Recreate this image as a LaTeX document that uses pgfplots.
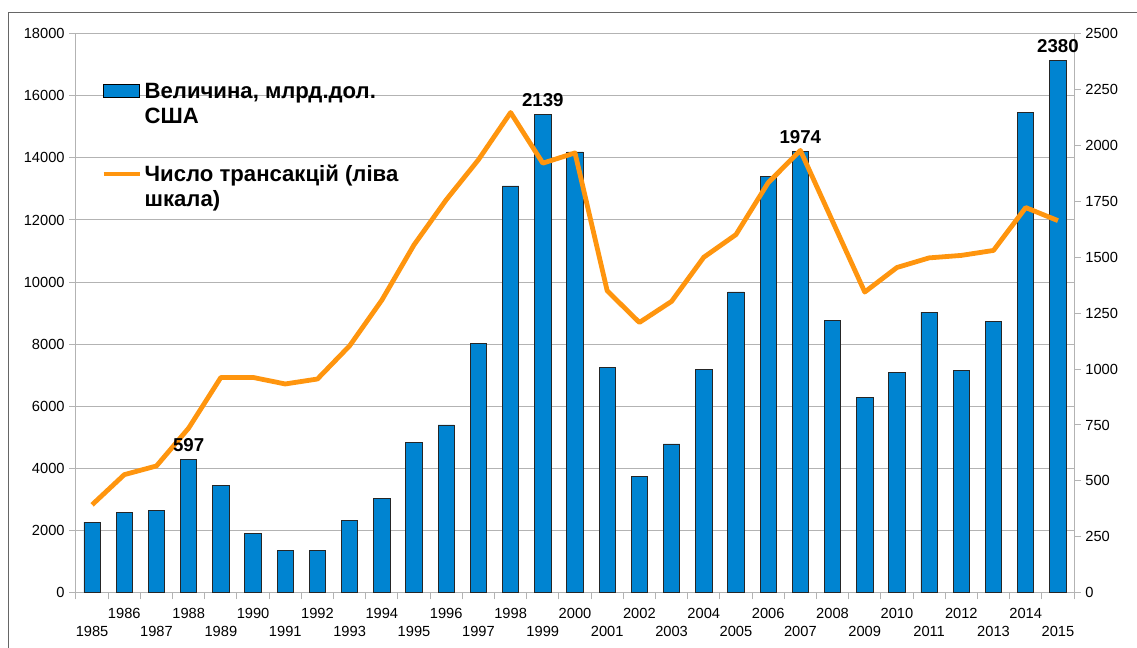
\documentclass[border=0pt]{standalone}
\usepackage{pgfplots}
\pgfplotsset{compat=1.18}
\usepackage{pgfplotstable}
\usepackage{fontspec}
\setmainfont{Liberation Sans}

\definecolor{barblue}{HTML}{0084D1}
\definecolor{lineorange}{HTML}{FF950E}
\definecolor{axisgray}{HTML}{B3B3B3}
\definecolor{framegray}{HTML}{666666}

% bars: right scale; line: left scale
\pgfplotstableread{
year value label
1985 316 {}
1986 358 {}
1987 368 {}
1988 597 597
1989 481 {}
1990 264 {}
1991 189 {}
1992 190 {}
1993 322 {}
1994 420 {}
1995 673 {}
1996 750 {}
1997 1114 {}
1998 1819 {}
1999 2139 2139
2000 1971 {}
2001 1007 {}
2002 520 {}
2003 665 {}
2004 1000 {}
2005 1345 {}
2006 1862 {}
2007 1974 1974
2008 1218 {}
2009 875 {}
2010 985 {}
2011 1255 {}
2012 993 {}
2013 1213 {}
2014 2146 {}
2015 2380 2380
}\valuetable

\pgfplotstableread{
year deals
1985 2830
1986 3800
1987 4080
1988 5300
1989 6930
1990 6930
1991 6720
1992 6880
1993 7950
1994 9420
1995 11200
1996 12650
1997 13940
1998 15460
1999 13830
2000 14160
2001 9720
2002 8700
2003 9380
2004 10800
2005 11530
2006 13200
2007 14240
2008 11960
2009 9680
2010 10470
2011 10780
2012 10860
2013 11020
2014 12400
2015 11980
}\dealtable

\pgfplotsset{
  /pgf/number format/.cd, 1000 sep={}, assume math mode=true,
  /pgfplots/.cd,
  base/.style={
    scale only axis, width=748.5pt, height=419.25pt,
    xmin=1984.5, xmax=2015.5, at={(0,0)}, anchor=south west,
    scaled y ticks=false,
    tick align=outside, major tick length=5pt,
    tick label style={font=\fontsize{11}{13}\selectfont, text=black},
    axis line style={axisgray, line width=0.75pt},
    tick style={axisgray, line width=0.75pt},
  },
}

\begin{document}
\begin{tikzpicture}
\useasboundingbox (-57pt,-41.5pt) rectangle (795.75pt,444.5pt);
\draw[framegray, line width=0.75pt] (-50.8pt,-60pt) -- (-50.8pt,435.3pt) -- (810pt,435.3pt);

% grid, left scale, boundary ticks
\begin{axis}[base,
  ymin=0, ymax=18000, ytick={0,2000,...,18000},
  axis y line*=left, axis x line*=bottom,
  ymajorgrids, grid style={axisgray, line width=0.75pt},
  xtick={1984.5,1985.5,...,2015.5}, xticklabels={},
]
\end{axis}

% bars, right scale, even years
\begin{axis}[base,
  ymin=0, ymax=2500, ytick={0,250,...,2500},
  axis y line*=right, axis x line*=bottom,
  x axis line style={draw=none}, xtick style={draw=none},
  xtick={1986,1988,...,2014},
  xticklabel style={yshift=-3pt},
]
\addplot[ybar, bar width=12.25pt, fill=barblue, draw=black!85, line width=0.6pt]
  table[x=year, y=value] {\valuetable};
\end{axis}

% line, left scale, odd years, legend
\begin{axis}[base,
  ymin=0, ymax=18000,
  axis y line=none, axis x line*=bottom,
  x axis line style={draw=none}, xtick style={draw=none},
  xtick={1985,1987,...,2015},
  xticklabel style={yshift=-16.3pt},
  legend style={at={(rel axis cs:0.025,0.921)}, anchor=north west, draw=none, fill=none,
    font=\bfseries\fontsize{16.6}{18.75}\selectfont, row sep=44pt, inner sep=0pt},
  legend cell align=left,
]
\addlegendimage{legend image code/.code={\draw[fill=barblue, draw=black, line width=0.6pt] (0pt,-4.9pt) rectangle (27pt,4.9pt);}}
\addlegendentry{\begin{tabular}[t]{@{}l@{}}Величина, млрд.дол.\\США\end{tabular}}
\addplot[lineorange, line width=3.6pt, line join=round,
  legend image code/.code={\draw[lineorange, line width=3.6pt] (0pt,0pt) -- (27pt,0pt);}]
  table[x=year, y=deals] {\dealtable};
\addlegendentry{\begin{tabular}[t]{@{}l@{}}Число трансакцій (ліва\\шкала)\end{tabular}}
\end{axis}

% value labels above selected bars, on top of the line
\begin{axis}[base,
  ymin=0, ymax=2500, hide axis,
]
\addplot[draw=none, mark=none,
  nodes near coords, point meta=explicit symbolic,
  nodes near coords style={font=\bfseries\fontsize{14}{16}\selectfont, text=black, anchor=south, yshift=2pt}]
  table[x=year, y=value, meta=label] {\valuetable};
\end{axis}
\end{tikzpicture}
\end{document}
